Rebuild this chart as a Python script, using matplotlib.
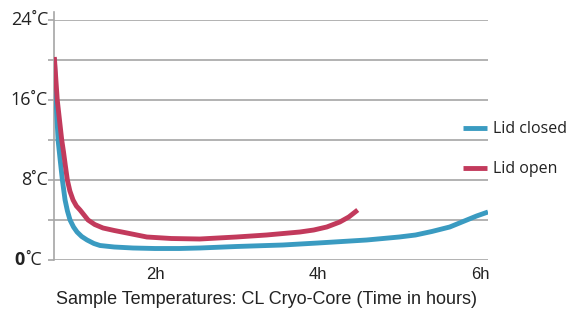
import matplotlib
matplotlib.use("Agg")
import matplotlib.pyplot as plt

# Data (hours, °C)
time_closed = [0.764, 0.785, 0.81, 0.836, 0.863, 0.896, 0.925, 0.957, 1.00, 1.043, 1.10, 1.166, 1.25, 1.325,
               1.50, 1.73, 2.00, 2.30, 2.55, 3.00, 3.57, 4.00, 4.60, 5.00, 5.20, 5.40, 5.62, 5.83, 5.95, 6.09]
temp_closed = [20.2, 16.0, 12.0, 10.0, 8.0, 6.0, 4.9, 4.0, 3.3, 2.8, 2.35, 2.0, 1.65, 1.45,
               1.3, 1.2, 1.15, 1.15, 1.2, 1.35, 1.5, 1.7, 2.0, 2.3, 2.5, 2.85, 3.3, 4.0, 4.4, 4.8]
time_open = [0.764, 0.80, 0.855, 0.877, 0.90, 0.924, 0.955, 0.994, 1.035, 1.08, 1.178, 1.26, 1.362, 1.50,
             1.656, 1.90, 2.20, 2.55, 3.00, 3.37, 3.78, 3.95, 4.11, 4.27, 4.38, 4.49]
temp_open = [20.3, 16.0, 12.0, 10.8, 9.4, 8.0, 6.9, 6.0, 5.4, 5.0, 4.0, 3.55, 3.2, 2.95,
             2.7, 2.3, 2.15, 2.1, 2.3, 2.5, 2.8, 3.0, 3.3, 3.8, 4.3, 5.0]

series_labels = ["Lid closed", "Lid open"]
x_ticks = [2, 4, 6]
x_tick_labels = ["2h", "4h", "6h"]
y_grid = [0, 4, 8, 12, 16, 20, 24]
y_label_values = [0, 8, 16, 24]
title = "Sample Temperatures: CL Cryo-Core (Time in hours)"

blue = "#3a9bc1"
red = "#c23a5c"
grid_c = "#a6a6a6"
label_c = "#222222"

fig = plt.figure(figsize=(5.73, 3.18), dpi=100)
ax = fig.add_axes([54/573, 1-260/318, (488-54)/573, 240/318])
ax.set_xlim(0.76, 6.09)
ax.set_ylim(0, 24)

for s in ["top", "right", "bottom"]:
    ax.spines[s].set_visible(False)
ax.spines["left"].set_color(grid_c)
ax.spines["left"].set_linewidth(1.2)
ax.spines["left"].set_bounds(0, 24.8)

for yv in y_grid:
    ax.axhline(yv, color=grid_c, lw=1.2, zorder=1)

ax.set_yticks(y_grid)
ax.set_yticklabels([])
ax.tick_params(axis="y", length=4, color=grid_c, width=1.2)
ax.set_xticks(x_ticks)
ax.set_xticklabels(x_tick_labels, fontsize=12, family="Liberation Sans", color=label_c)
ax.tick_params(axis="x", length=0, pad=5)

for yv in y_label_values:
    if yv == 0:
        c = ax.annotate("˚C", xy=(0, yv), xycoords=("axes fraction", "data"),
                        xytext=(-12, 0), textcoords="offset pixels", ha="right", va="center",
                        fontsize=13, family="Open Sans", color=label_c, annotation_clip=False)
        ax.annotate("0", xy=(0, 0.5), xycoords=c, xytext=(-1, 0), textcoords="offset pixels",
                    ha="right", va="center", fontsize=13, family="Open Sans",
                    fontweight="bold", color=label_c, annotation_clip=False)
    else:
        ax.annotate(f"{yv}˚C", xy=(0, yv), xycoords=("axes fraction", "data"),
                    xytext=(-6, 0), textcoords="offset pixels", ha="right", va="center",
                    fontsize=13, family="Open Sans", color=label_c, annotation_clip=False)

l1, = ax.plot(time_closed, temp_closed, color=blue, lw=3.5, solid_capstyle="butt",
              solid_joinstyle="round", zorder=3)
l2, = ax.plot(time_open, temp_open, color=red, lw=3.5, solid_capstyle="butt",
              solid_joinstyle="round", zorder=4)

fig.legend(handles=[l1, l2], labels=series_labels, loc="upper left",
           bbox_to_anchor=(457/573, 1-115/318), frameon=False, handlelength=1.5,
           handletextpad=0.35, labelspacing=1.5, borderaxespad=0,
           prop={"family": "Open Sans", "size": 11.5})
for t in fig.legends[0].get_texts():
    t.set_color(label_c)

fig.text(267/573, 1-300/318, title, ha="center", va="center", fontsize=13,
         family="Liberation Sans", color=label_c)

fig.savefig("out.png", dpi=100)
